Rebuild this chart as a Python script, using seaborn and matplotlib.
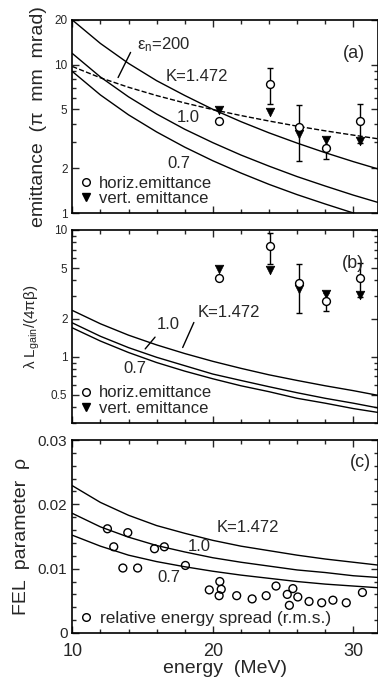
import numpy as np
import pandas as pd
import matplotlib
matplotlib.use("Agg")
import matplotlib.pyplot as plt
import seaborn as sns
from matplotlib.lines import Line2D
from matplotlib.ticker import MultipleLocator, LogLocator, NullFormatter

# energy grid for the theory curves (MeV)
energy = [10, 12, 14, 16, 18, 20, 22, 24, 26, 28, 30, 32]

# (a) emittance limits for K = 1.472, 1.0, 0.7 and eps_n = 200 line
em_k1472 = [20.0, 13.9, 10.2, 7.8, 6.2, 5.0, 4.13, 3.47, 2.96, 2.55, 2.22, 1.95]
em_k10 = [11.9, 8.26, 6.07, 4.65, 3.67, 2.98, 2.46, 2.07, 1.76, 1.52, 1.32, 1.16]
em_k07 = [9.0, 6.25, 4.59, 3.52, 2.78, 2.25, 1.86, 1.56, 1.33, 1.15, 1.0, 0.88]
em_n200 = [9.72, 8.16, 7.04, 6.19, 5.52, 4.98, 4.54, 4.17, 3.85, 3.58, 3.35, 3.14]

# (b) lambda L_gain / (4 pi beta)
lg_k1472 = [2.32, 1.82, 1.48, 1.24, 1.06, 0.92, 0.81, 0.72, 0.65, 0.59, 0.54, 0.49]
lg_k10 = [1.85, 1.45, 1.18, 0.99, 0.85, 0.73, 0.65, 0.58, 0.52, 0.47, 0.43, 0.39]
lg_k07 = [1.69, 1.33, 1.08, 0.90, 0.77, 0.67, 0.59, 0.53, 0.47, 0.43, 0.39, 0.36]

# (c) FEL parameter rho
rho_k1472 = [0.0229, 0.0203, 0.0183, 0.0167, 0.0155, 0.0144, 0.0135, 0.0128, 0.0121, 0.0115, 0.0110, 0.0105]
rho_k10 = [0.0186, 0.0165, 0.0149, 0.0136, 0.0126, 0.0117, 0.0110, 0.0104, 0.0098, 0.0094, 0.0089, 0.0086]
rho_k07 = [0.0152, 0.0135, 0.0121, 0.0111, 0.0103, 0.0096, 0.0090, 0.0085, 0.0080, 0.0076, 0.0073, 0.0070]

# measured emittances
e_meas = [20.45, 24.1, 26.1, 28.05, 30.5]
horiz = [4.2, 7.45, 3.8, 2.75, 4.2]
horiz_err = [0, 2.05, 1.57, 0.45, 1.25]
vert = [4.95, 4.8, 3.4, 3.1, 3.05]

# measured relative energy spread
e_spread = [12.5, 12.95, 13.6, 13.95, 14.65, 15.85, 16.55, 18.05, 19.75, 20.5, 20.6, 20.45, 21.7,
            22.8, 23.8, 24.5, 25.3, 25.45, 25.7, 26.05, 26.85, 27.75, 28.55, 29.5, 30.65]
spread = [0.0162, 0.0134, 0.0101, 0.0156, 0.0101, 0.0131, 0.0134, 0.0105, 0.0067, 0.0080, 0.0068,
          0.0058, 0.0058, 0.0053, 0.0058, 0.0073, 0.0060, 0.0043, 0.0069, 0.0056, 0.0049, 0.0047,
          0.0051, 0.0047, 0.0063]

sns.set_style("ticks")
plt.rcParams['font.family'] = ['Liberation Sans', 'DejaVu Sans']
plt.rcParams['mathtext.fontset'] = 'custom'
plt.rcParams['mathtext.rm'] = 'Liberation Sans'
plt.rcParams['mathtext.it'] = 'Liberation Sans:italic'

W, H = 378, 677
fig = plt.figure(figsize=(W / 100, H / 100), dpi=100)
left, width = 72.3, 305.2
tops = [20, 230, 440]
axes = [fig.add_axes([left / W, 1 - (t + 193) / H, width / W, 193 / H]) for t in tops]
ax_a, ax_b, ax_c = axes

def curve(ax, y, ls='-'):
    sns.lineplot(x=energy, y=y, ax=ax, color='k', lw=1.0, linestyle=ls, estimator=None, sort=False)

def measured(ax):
    ax.errorbar(e_meas, horiz, yerr=horiz_err, fmt='none', ecolor='k', elinewidth=1, capsize=2, capthick=1)
    sns.scatterplot(x=e_meas, y=vert, ax=ax, marker='v', color='k', s=38, edgecolor='k', zorder=4)
    sns.scatterplot(x=e_meas, y=horiz, ax=ax, marker='o', s=32, facecolor='white', edgecolor='k',
                    linewidth=1.0, zorder=5)

tsize = 12
em_handles = [Line2D([], [], marker='o', ls='', mfc='none', mec='k', ms=5.5),
              Line2D([], [], marker='v', ls='', color='k', ms=5.5)]
em_labels = ['horiz.emittance', 'vert. emittance']

# (a)
curve(ax_a, em_k1472)
curve(ax_a, em_k10)
curve(ax_a, em_k07)
curve(ax_a, em_n200, ls='--')
measured(ax_a)
ax_a.set_yscale('log')
ax_a.set_ylim(1, 20)
ax_a.set_yticks([1, 2, 5, 10, 20])
ax_a.set_yticklabels(['1', '2', '5', '10', '20'])
ax_a.set_ylabel('emittance  (π  mm  mrad)', fontsize=14)
ax_a.yaxis.set_label_coords(-0.083, 0.5)
ax_a.text(0.212, 0.870, 'ε$_{\\mathrm{n}}$=200', transform=ax_a.transAxes, fontsize=tsize, va='center')
ax_a.annotate('', xy=(0.146, 0.689), xytext=(0.195, 0.845), xycoords='axes fraction',
              arrowprops=dict(arrowstyle='-', color='k', lw=1))
ax_a.text(0.305, 0.705, 'K=1.472', transform=ax_a.transAxes, fontsize=tsize, va='center')
ax_a.text(0.343, 0.497, '1.0', transform=ax_a.transAxes, fontsize=tsize, va='center')
ax_a.text(0.310, 0.259, '0.7', transform=ax_a.transAxes, fontsize=tsize, va='center')
ax_a.text(0.887, 0.829, '(a)', transform=ax_a.transAxes, fontsize=13, va='center')
ax_a.legend(em_handles, em_labels, loc='lower left', frameon=False, fontsize=tsize,
            handlelength=0.8, handletextpad=0.4, labelspacing=0.05, borderaxespad=0.2, borderpad=0.2)

# (b)
curve(ax_b, lg_k1472)
curve(ax_b, lg_k10)
curve(ax_b, lg_k07)
measured(ax_b)
ax_b.set_yscale('log')
ax_b.set_ylim(0.3, 10)
ax_b.set_yticks([0.5, 1, 2, 5, 10])
ax_b.set_yticklabels(['0.5', '1', '2', '5', '10'])
ax_b.set_ylabel('λ L$_{\\mathrm{gain}}$/(4πβ)', fontsize=11)
ax_b.yaxis.set_label_coords(-0.10, 0.5)
ax_b.text(0.412, 0.575, 'K=1.472', transform=ax_b.transAxes, fontsize=tsize, va='center')
ax_b.annotate('', xy=(0.358, 0.378), xytext=(0.402, 0.534), xycoords='axes fraction',
              arrowprops=dict(arrowstyle='-', color='k', lw=1))
ax_b.text(0.278, 0.508, '1.0', transform=ax_b.transAxes, fontsize=tsize, va='center')
ax_b.annotate('', xy=(0.233, 0.373), xytext=(0.277, 0.456), xycoords='axes fraction',
              arrowprops=dict(arrowstyle='-', color='k', lw=1))
ax_b.text(0.166, 0.280, '0.7', transform=ax_b.transAxes, fontsize=tsize, va='center')
ax_b.text(0.884, 0.829, '(b)', transform=ax_b.transAxes, fontsize=13, va='center')
ax_b.legend(em_handles, em_labels, loc='lower left', frameon=False, fontsize=tsize,
            handlelength=0.8, handletextpad=0.4, labelspacing=0.05, borderaxespad=0.2, borderpad=0.2)

# (c)
curve(ax_c, rho_k1472)
curve(ax_c, rho_k10)
curve(ax_c, rho_k07)
sns.scatterplot(x=e_spread, y=spread, ax=ax_c, marker='o', s=32, facecolor='none', edgecolor='k',
                linewidth=1.0, zorder=5)
ax_c.set_ylim(0, 0.03)
ax_c.set_yticks([0, 0.01, 0.02, 0.03])
ax_c.set_yticklabels(['0', '0.01', '0.02', '0.03'])
ax_c.yaxis.set_minor_locator(MultipleLocator(0.002))
ax_c.set_ylabel('FEL  parameter  ρ', fontsize=14)
ax_c.yaxis.set_label_coords(-0.139, 0.5)
ax_c.set_xlabel('energy  (MeV)', fontsize=14, labelpad=0)
ax_c.text(0.474, 0.549, 'K=1.472', transform=ax_c.transAxes, fontsize=tsize, va='center')
ax_c.text(0.379, 0.446, '1.0', transform=ax_c.transAxes, fontsize=tsize, va='center')
ax_c.text(0.278, 0.290, '0.7', transform=ax_c.transAxes, fontsize=tsize, va='center')
ax_c.text(0.910, 0.881, '(c)', transform=ax_c.transAxes, fontsize=13, va='center')
ax_c.legend([Line2D([], [], marker='o', ls='', mfc='none', mec='k', ms=5.5)],
            ['relative energy spread (r.m.s.)'], loc='lower left', frameon=False, fontsize=12.5,
            handlelength=0.8, handletextpad=0.4, borderaxespad=0.2, borderpad=0.2)

for ax in axes:
    ax.set_xlim(10, 10 + width / 14.05)
    ax.set_xticks([10, 20, 30])
    ax.xaxis.set_minor_locator(MultipleLocator(2))
    ax.tick_params(which='both', direction='in', top=True, right=True, width=1)
    ax.tick_params(which='major', length=5)
    ax.tick_params(which='minor', length=3)
    for s in ax.spines.values():
        s.set_linewidth(1.2)
        s.set_color('k')
for ax in (ax_a, ax_b):
    ax.yaxis.set_minor_locator(LogLocator(base=10, subs=np.arange(2, 10)))
    ax.yaxis.set_minor_formatter(NullFormatter())
    ax.tick_params(axis='y', labelsize=8.5)
    ax.tick_params(axis='x', labelbottom=False)
    ax.set_xlabel('')
ax_c.tick_params(axis='y', labelsize=11)
ax_c.tick_params(axis='x', labelsize=13, pad=7)

fig.savefig('out.png', dpi=100)
